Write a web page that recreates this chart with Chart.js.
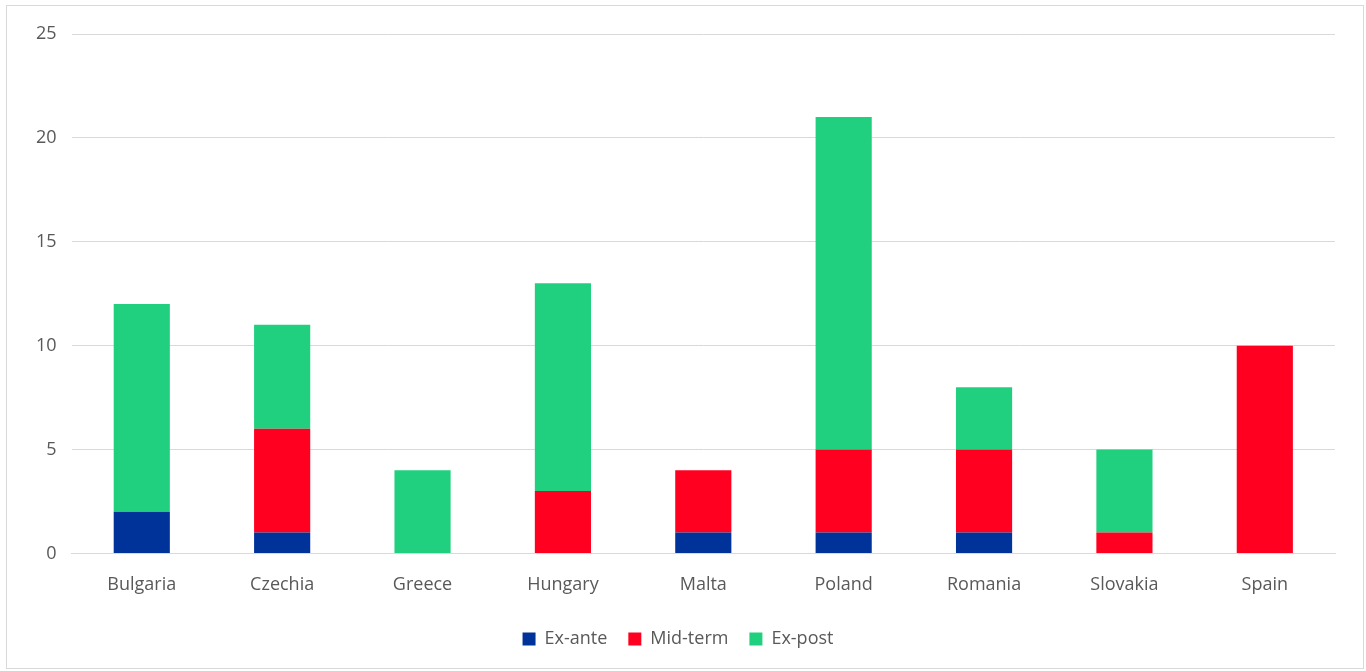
<!DOCTYPE html>
<html>
<head>
<meta charset="utf-8">
<script src="https://cdn.jsdelivr.net/npm/chart.js@4"></script>
<style>
  html, body { margin: 0; padding: 0; background: #fff; }
  #frame { position: absolute; left: 6px; top: 5px; width: 1358px; height: 664px; border: 1px solid #d9d9d9; box-sizing: border-box; }
  #wrap { position: absolute; left: 0; top: 0; width: 1356px; height: 662px; }
</style>
</head>
<body>
<div id="frame"><div id="wrap"><canvas id="chart"></canvas></div></div>
<script>
// evaluations per country
var countries = ["Bulgaria", "Czechia", "Greece", "Hungary", "Malta", "Poland", "Romania", "Slovakia", "Spain"];
var exAnte  = [2, 1, 0, 0, 1, 1, 1, 0, 0];
var midTerm = [0, 5, 0, 3, 3, 4, 4, 1, 10];
var exPost  = [10, 5, 4, 10, 0, 16, 3, 4, 0];

var font = "'Open Sans', 'Liberation Sans', sans-serif";

new Chart(document.getElementById("chart"), {
  type: 'bar',
  data: {
    labels: countries,
    datasets: [
      { label: "Ex-ante", data: exAnte, backgroundColor: "#003399" },
      { label: "Mid-term", data: midTerm, backgroundColor: "#FF0020" },
      { label: "Ex-post", data: exPost, backgroundColor: "#21D07F" }
    ]
  },
  options: {
    responsive: true,
    maintainAspectRatio: false,
    animation: false,
    datasets: { bar: { categoryPercentage: 1, barPercentage: 0.4 } },
    layout: { padding: { left: 14, right: 28, top: 28, bottom: 10 } },
    plugins: {
      tooltip: { enabled: false },
      legend: {
        position: 'bottom',
        labels: { boxWidth: 13, boxHeight: 13, padding: 21, color: '#595959', font: { family: font, size: 18 } }
      }
    },
    scales: {
      x: {
        stacked: true,
        grid: { display: false },
        border: { color: '#d9d9d9', width: 1 },
        ticks: { color: '#595959', padding: 13, font: { family: font, size: 18 } }
      },
      y: {
        stacked: true,
        min: 0, max: 25,
        grid: { color: '#d9d9d9', drawTicks: false },
        border: { display: false },
        ticks: { stepSize: 5, color: '#595959', padding: 15, font: { family: font, size: 18 } }
      }
    }
  }
});
</script>
</body>
</html>
